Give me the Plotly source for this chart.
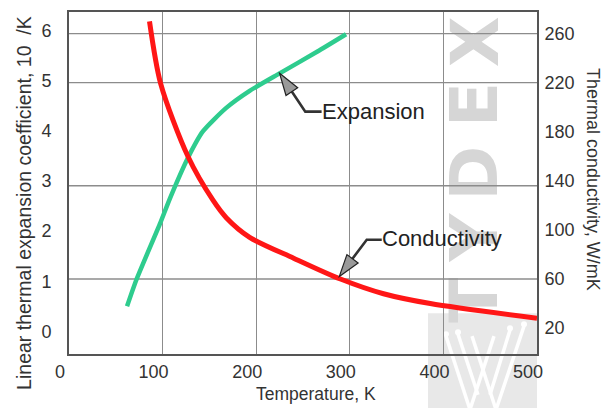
import plotly.graph_objects as go

# ---- data ----
T_exp = [62, 72, 97, 108, 127, 143, 168, 193, 225, 265, 296]
alpha_exp = [0.50, 1.03, 2.14, 2.66, 3.46, 3.99, 4.46, 4.80, 5.15, 5.58, 5.93]

T_cond = [86, 98, 127, 154, 168, 193, 240, 290, 336, 386, 500]
k_cond = [270, 219, 160, 124, 110, 94, 77, 60, 48, 40, 28]

x_ticks = [0, 100, 200, 300, 400, 500]
left_ticks = [0, 1, 2, 3, 4, 5, 6]
right_ticks = [20, 60, 100, 140, 180, 220, 260]
grid_levels = [60, 136, 220, 260]

x_title = "Temperature, K"
left_title = "Linear thermal expansion coefficient, 10  /K"
right_title = "Thermal conductivity, W/mK"
watermark = ["T", "Y", "D", "E", "X"]

# ---- layout geometry (page pixels; the page body has an 8 px margin) ----
OFF = 8
W, H = 612 - OFF, 408 - OFF
ML, MT = 69 - OFF, 10 - OFF
PW, PH = 468, 344
MR = W - ML - PW
MB = H - MT - PH


def px(x):
    return (x - OFF - ML) / PW


def py(y):
    return (MT + PH - (y - OFF)) / PH


FONT = "Liberation Sans, Arial, sans-serif"
AX = "#555555"
GRID = "#8c8c8c"

fig = go.Figure()
fig.add_trace(go.Scatter(
    x=T_exp, y=alpha_exp, mode="lines", yaxis="y",
    line=dict(color="#2ecc8e", width=4.5, shape="spline", smoothing=0.6),
    hoverinfo="skip", showlegend=False))
fig.add_trace(go.Scatter(
    x=T_cond, y=k_cond, mode="lines", yaxis="y2",
    line=dict(color="#ff1616", width=5, shape="spline", smoothing=0.8),
    hoverinfo="skip", showlegend=False))

shapes = []
# watermark block with stylised W
shapes.append(dict(type="rect", xref="paper", yref="paper",
                   x0=px(428), x1=px(537), y0=py(410), y1=py(313),
                   fillcolor="#e8e8e8", line=dict(width=0), layer="below"))
w_lines = [((446, 336), (470, 410)), ((470, 410), (494, 336)),
           ((472, 336), (496, 410)), ((496, 410), (524, 326)),
           ((458, 334), (478, 395)), ((510, 330), (490, 395))]
for (a, b) in w_lines:
    shapes.append(dict(type="line", xref="paper", yref="paper",
                       x0=px(a[0]), y0=py(a[1]), x1=px(b[0]), y1=py(b[1]),
                       line=dict(color="white", width=3.5), layer="below"))
for (cx, cy) in [(446, 334), (458, 332), (510, 328), (524, 324)]:
    shapes.append(dict(type="circle", xref="paper", yref="paper",
                       x0=px(cx - 3), x1=px(cx + 3), y0=py(cy + 3), y1=py(cy - 3),
                       fillcolor="white", line=dict(width=0), layer="below"))
# watermark letters
letter_centres = [300, 237, 172, 103, 40]
for letter, yc in zip(watermark, letter_centres):
    shapes.append(dict(type="rect", xref="paper", yref="paper",
                       x0=px(446), x1=px(494), y0=py(yc + 32), y1=py(yc - 32),
                       fillcolor="rgba(0,0,0,0)", line=dict(width=0), layer="below",
                       label=dict(text=letter, textangle=-90, textposition="middle center",
                                  font=dict(family="DejaVu Sans", size=66,
                                            color="#d6d6d6", weight="bold"))))
# horizontal gridlines
for lv in grid_levels:
    shapes.append(dict(type="line", xref="paper", yref="y2", x0=0, x1=1, y0=lv, y1=lv,
                       line=dict(color=GRID, width=1.3), layer="between"))

# arrows (pixel-sized paths anchored at points of the curves)
ia, ic = 8, 7
shapes.append(dict(type="path", xref="x", yref="y", xsizemode="pixel", ysizemode="pixel",
                   xanchor=T_exp[ia], yanchor=alpha_exp[ia],
                   path="M 6,-9 L 25.7,-38.3 L 42,-38.3",
                   line=dict(color="#333333", width=2.6), layer="above"))
shapes.append(dict(type="path", xref="x", yref="y", xsizemode="pixel", ysizemode="pixel",
                   xanchor=T_exp[ia], yanchor=alpha_exp[ia],
                   path="M 0,0 L 18.1,-14.4 L 6.4,-22.2 Z",
                   fillcolor="#9a9a9a", line=dict(color="#222222", width=1.2), layer="above"))
shapes.append(dict(type="path", xref="x", yref="y2", xsizemode="pixel", ysizemode="pixel",
                   xanchor=T_cond[ic], yanchor=k_cond[ic],
                   path="M 5,11 L 26.3,39.3 L 41.3,39.3",
                   line=dict(color="#333333", width=2.6), layer="above"))
shapes.append(dict(type="path", xref="x", yref="y2", xsizemode="pixel", ysizemode="pixel",
                   xanchor=T_cond[ic], yanchor=k_cond[ic],
                   path="M -1.1,2.6 L 17.7,16.0 L 6.5,24.4 Z",
                   fillcolor="#9a9a9a", line=dict(color="#222222", width=1.2), layer="above"))

annotations = [
    dict(x=T_exp[ia], y=alpha_exp[ia], xref="x", yref="y", text="Expansion",
         showarrow=False, xanchor="left", yanchor="middle", xshift=40, yshift=-38,
         font=dict(family=FONT, size=22, color="#222222")),
    dict(x=T_cond[ic], y=k_cond[ic], xref="x", yref="y2", text="Conductivity",
         showarrow=False, xanchor="left", yanchor="middle", xshift=40, yshift=41,
         font=dict(family=FONT, size=22, color="#222222")),
    dict(x=px(24), y=py(202), xref="paper", yref="paper", text=left_title,
         showarrow=False, textangle=-90, xanchor="center", yanchor="middle",
         font=dict(family=FONT, size=19.5, color="#333333")),
    dict(x=px(593), y=py(178), xref="paper", yref="paper", text=right_title,
         showarrow=False, textangle=90, xanchor="center", yanchor="middle",
         font=dict(family=FONT, size=18, color="#333333")),
    dict(x=px(316), y=py(394), xref="paper", yref="paper", text=x_title,
         showarrow=False, xanchor="center", yanchor="middle",
         font=dict(family=FONT, size=17.5, color="#333333")),
]

tickfont = dict(family=FONT, size=18, color="#333333")
fig.update_layout(
    width=W, height=H,
    margin=dict(l=ML, r=MR, t=MT, b=MB),
    paper_bgcolor="white", plot_bgcolor="white",
    showlegend=False,
    xaxis=dict(range=[0, 500], tickvals=x_ticks, showgrid=True, gridcolor=GRID, gridwidth=1.3,
               showline=True, linecolor=AX, linewidth=1.6, mirror=True, zeroline=False,
               ticks="outside", ticklen=1, tickcolor="rgba(0,0,0,0)", tickfont=tickfont,
               ticklabelshift=-9),
    yaxis=dict(range=[-0.452, 6.374], tickvals=left_ticks, showgrid=False, zeroline=False,
               showline=True, linecolor=AX, linewidth=1.6,
               ticks="outside", ticklen=12, tickcolor="rgba(0,0,0,0)", tickfont=tickfont),
    yaxis2=dict(range=[-1.1, 277.6], tickvals=right_ticks, overlaying="y", side="right",
                showgrid=False, zeroline=False, showline=True, linecolor=AX, linewidth=1.6,
                ticks="outside", ticklen=2, tickcolor="rgba(0,0,0,0)", tickfont=tickfont),
    shapes=shapes,
    annotations=annotations,
)

fig.write_html("out.html")
